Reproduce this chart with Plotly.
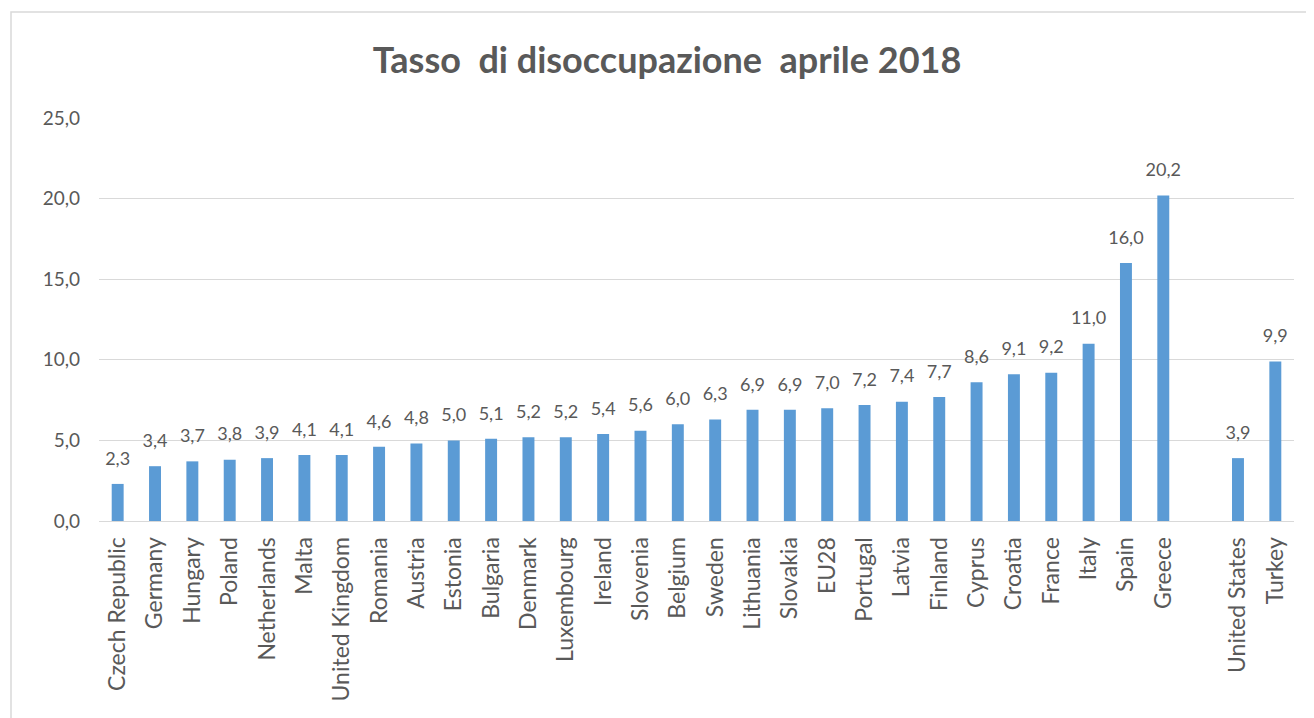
import plotly.graph_objects as go

countries = ["Czech Republic", "Germany", "Hungary", "Poland", "Netherlands", "Malta",
             "United Kingdom", "Romania", "Austria", "Estonia", "Bulgaria", "Denmark",
             "Luxembourg", "Ireland", "Slovenia", "Belgium", "Sweden", "Lithuania",
             "Slovakia", "EU28", "Portugal", "Latvia", "Finland", "Cyprus", "Croatia",
             "France", "Italy", "Spain", "Greece", " ", "United States", "Turkey"]
values = [2.3, 3.4, 3.7, 3.8, 3.9, 4.1, 4.1, 4.6, 4.8, 5.0, 5.1, 5.2, 5.2, 5.4, 5.6,
          6.0, 6.3, 6.9, 6.9, 7.0, 7.2, 7.4, 7.7, 8.6, 9.1, 9.2, 11.0, 16.0, 20.2,
          None, 3.9, 9.9]
title_text = "Tasso  di disoccupazione  aprile 2018"

FONT = "Lato"
GRAY = "#595959"

# page body has an 8px margin, so the figure is drawn 8px smaller
W, H = 1306, 710
L, R, T, B = 91, 20, 110, 197
PW, PH = W - L - R, H - T - B

fig = go.Figure()
fig.add_trace(go.Bar(
    x=countries, y=values,
    marker=dict(color="#5B9BD5", line=dict(width=0)),
    hoverinfo="skip",
))
fig.add_trace(go.Scatter(
    x=countries, y=values, mode="markers+text",
    marker=dict(size=22, color="rgba(0,0,0,0)"),
    texttemplate="%{y:.1f}", textposition="top center", cliponaxis=False,
    textfont=dict(family=FONT, size=18, color=GRAY),
    hoverinfo="skip",
))

fig.update_layout(
    width=W, height=H,
    paper_bgcolor="white", plot_bgcolor="white",
    separators=",.",
    margin=dict(l=L, r=R, t=T, b=B),
    bargap=0.68,
    showlegend=False,
    title=dict(text=title_text, x=659 / W, xanchor="center", y=1 - 52 / H, yanchor="middle",
               font=dict(family=FONT, size=36, color=GRAY, weight="bold")),
    xaxis=dict(type="category", categoryorder="array", categoryarray=countries,
               range=[-0.5, len(countries) - 0.5],
               tickangle=-90, tickfont=dict(family=FONT, size=23, color=GRAY),
               showgrid=False, showline=True, linecolor="#D9D9D9", linewidth=1,
               ticks="", ticklabelstandoff=6, automargin=False, fixedrange=True),
    yaxis=dict(range=[0, 25], tick0=0, dtick=5, tickformat=".1f",
               tickfont=dict(family=FONT, size=19, color=GRAY),
               showgrid=True, gridcolor="#D9D9D9", gridwidth=1, zeroline=False,
               showline=False, ticks="", ticklabelstandoff=18, automargin=False,
               fixedrange=True),
    shapes=[dict(type="rect", xref="paper", yref="paper",
                 x0=(3 - L) / PW, x1=(1301 - L) / PW,
                 y0=-0.6, y1=1 + (T - 4) / PH,
                 line=dict(color="#D9D9D9", width=1.5), fillcolor="rgba(0,0,0,0)",
                 layer="below")],
)

fig.write_html("out.html")
